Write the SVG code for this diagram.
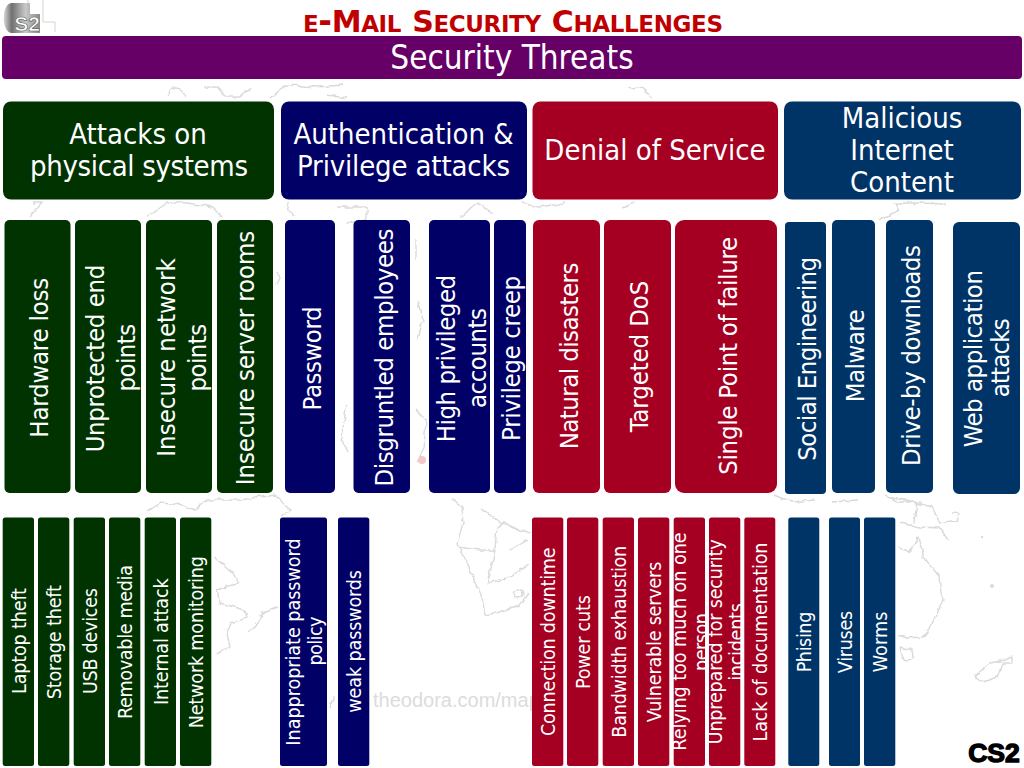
<svg xmlns="http://www.w3.org/2000/svg" width="1024" height="768" viewBox="0 0 1024 768">
<defs>
<linearGradient id="lg" x1="0" x2="1" y1="0" y2="0"><stop offset="0" stop-color="#d8d8d8"/><stop offset="0.22" stop-color="#707070"/><stop offset="0.6" stop-color="#c8c8c8"/><stop offset="1" stop-color="#8a8a8a"/></linearGradient>
<filter id="rough" x="-5%" y="-5%" width="110%" height="110%"><feTurbulence type="fractalNoise" baseFrequency="0.13" numOctaves="2" seed="4"/><feDisplacementMap in="SourceGraphic" scale="5" xChannelSelector="R" yChannelSelector="G"/><feGaussianBlur stdDeviation="0.3"/></filter>
</defs>
<style>
text{font-family:"DejaVu Sans","Noto Sans",sans-serif;font-stretch:condensed;fill:#fff;text-anchor:middle}
.map{fill:none;stroke:#dadada;stroke-width:1.4;stroke-linejoin:round}
.g{fill:#003300}.n{fill:#000066}.r{fill:#a50021}.b{fill:#003366}
.h{font-size:29px}.m{font-size:25.500px}.s{font-size:19.600px}
.t{fill:#c00000;font-variant:small-caps;font-weight:700;font-stretch:normal;font-size:33px}
.c{font-size:30px}
</style>
<rect width="1024" height="768" fill="#fff"/>
<g id="map">
<g filter="url(#rough)">
<path class="map" d="M167 96l5-8 8 2 6 7M205 87h12l10 10h13l10-9M270 98l17-13 30 2 26-2M327 95l20 3M629 88l11-1 12 10"/>
<path class="map" d="M33 203h9l-12 14M147 217l20-14h20l26 4 10 10M287 203l7 14M337 207h30v13l-20 3M460 217l17-14 16 10M522 203l17 4 26-4M622 208l13-5M879 220l20-10-4-7h24l26 1"/>
<path class="map" d="M277 272l3 6-3 6M347 404l-6 34 7 14M416 240v20M417 300l6 20-5 20M416 410l10 10-2 28-8 14"/>
<path class="map" d="M147 512l13-9 23 2 12 5 12-10 33 0 35-5 15 15-10 7"/>
<path class="map" d="M215 557l18 16 5 10-21 7 3 13 25 7 2 8-17 5-3 10 3 14-15 8M277 607l-14 6-10 15-5 4"/>
<path class="map" d="M452 498l10 9 1 16-6 22 10 18 10 24 6 16 2 12 15-3 20-7 8-12M457 547l23 3h15l2-23 8-4 15 7 10 3M495 550l-7 33 22-6 18-12M480 510l10 5 13 10M510 550l18-10"/>
<ellipse class="map" cx="518" cy="594" rx="5" ry="4"/>
<path class="map" d="M775 495l17 7 23-2M832 502l26-2M885 495l13 7h24"/>
<path class="map" d="M890 498l17 2 10 3 15 4 8 16 17-3 1-7-5-1M900 523l20 4 20 1 8 12M917 503l-3 20M898 547l12 5 8-15 7 23 15 17 3 23-10 23-10 14-16 1-9-3M900 647l12 3 1 7-8 5-3-7zM975 677l15-14 15-3 7-3v6h-9l-6 14-14 5zM330 708l4-12"/>
</g>
<circle cx="992" cy="586" r="2" fill="#dadada"/><circle cx="982" cy="537" r="1.200" fill="#dadada"/>
<circle cx="422" cy="460" r="4" fill="#f4c8c8"/>
<text x="373" y="707" font-size="20" style="fill:#dcdcdc;text-anchor:start;font-family:'Liberation Sans',sans-serif">theodora.com/map</text>
</g>
<g id="logo">
<path d="M12 3H30V14H40V33H12C1 33 1 3 12 3Z" fill="url(#lg)"/>
<path d="M28 0V4M43 0V22H55V32" fill="none" stroke="#c8c8c8" stroke-width="0.8"/>
<text x="27" y="30.500" font-size="21" font-weight="700" stroke="#666" stroke-width="0.7" style="font-family:'Liberation Sans',sans-serif;font-stretch:normal">S2</text>
</g>
<g id="title"><text class="t" x="513" y="32" textLength="420">e-<tspan class="c">M</tspan>ail <tspan class="c">S</tspan>ecurity <tspan class="c">C</tspan>hallenges</text></g>
<g id="band"><rect x="2" y="36" width="1020" height="43" rx="4" fill="#660066"/><text x="512" y="69" font-size="33">Security Threats</text></g>
<g id="h-physical"><rect class="g" x="3" y="101.500" width="271" height="98" rx="8"/><text class="h" x="138" y="143.500">Attacks on</text><text class="h" x="139" y="175.500" textLength="218">physical systems</text></g>
<g id="h-auth"><rect class="n" x="281" y="101.500" width="246" height="98" rx="8"/><text class="h" x="403.500" y="143.500">Authentication &amp;</text><text class="h" x="403.500" y="175.500" textLength="213">Privilege attacks</text></g>
<g id="h-dos"><rect class="r" x="532.500" y="101.500" width="245.500" height="98" rx="8"/><text class="h" x="655" y="160">Denial of Service</text></g>
<g id="h-content"><rect class="b" x="784" y="101.500" width="237" height="98" rx="8"/><text class="h" x="902" y="127.500">Malicious</text><text class="h" x="902" y="160">Internet</text><text class="h" x="902" y="192">Content</text></g>

<g id="a1"><rect class="g" x="4.500" y="220" width="66" height="273" rx="5"/><text class="m" textLength="160" transform="translate(48 357.700) rotate(-90)">Hardware loss</text></g>
<g id="a2"><rect class="g" x="75" y="220" width="66" height="273" rx="5"/><text class="m" textLength="187.600" transform="translate(103.500 358.500) rotate(-90)">Unprotected end</text><text class="m" textLength="67.600" transform="translate(135 357.700) rotate(-90)">points</text></g>
<g id="a3"><rect class="g" x="146" y="220" width="66" height="273" rx="5"/><text class="m" textLength="198.400" transform="translate(174.500 357.500) rotate(-90)">Insecure network</text><text class="m" textLength="67.600" transform="translate(206 357.700) rotate(-90)">points</text></g>
<g id="a4"><rect class="g" x="217" y="220" width="56" height="273" rx="5"/><text class="m" textLength="254.500" transform="translate(254 358) rotate(-90)">Insecure server rooms</text></g>
<g id="b1"><rect class="n" x="285" y="220" width="50" height="273" rx="5"/><text class="m" textLength="104" transform="translate(320.500 358.400) rotate(-90)">Password</text></g>
<g id="b2"><rect class="n" x="353.500" y="220" width="56.500" height="273" rx="5"/><text class="m" textLength="258" transform="translate(393 357.500) rotate(-90)">Disgruntled employees</text></g>
<g id="b3"><rect class="n" x="429" y="220" width="61" height="273" rx="5"/><text class="m" textLength="167.400" transform="translate(454.700 358.500) rotate(-90)">High privileged</text><text class="m" textLength="100" transform="translate(486 358) rotate(-90)">accounts</text></g>
<g id="b4"><rect class="n" x="494" y="220" width="32" height="273" rx="5"/><text class="m" textLength="165" transform="translate(520 358.400) rotate(-90)">Privilege creep</text></g>
<g id="c1"><rect class="r" x="533" y="220" width="67" height="273" rx="6"/><text class="m" textLength="186.700" transform="translate(577.700 356) rotate(-90)">Natural disasters</text></g>
<g id="c2"><rect class="r" x="604" y="220" width="67" height="273" rx="6"/><text class="m" textLength="151.700" transform="translate(648 356.500) rotate(-90)">Targeted DoS</text></g>
<g id="c3"><rect class="r" x="675" y="220" width="102" height="273" rx="9"/><text class="m" textLength="238" transform="translate(736.700 355.800) rotate(-90)">Single Point of failure</text></g>
<g id="d1"><rect class="b" x="785" y="222" width="41" height="272" rx="4"/><text class="m" textLength="204" transform="translate(815.700 358.800) rotate(-90)">Social Engineering</text></g>
<g id="d2"><rect class="b" x="832" y="220" width="43" height="273" rx="5"/><text class="m" textLength="93" transform="translate(864 355.800) rotate(-90)">Malware</text></g>
<g id="d3"><rect class="b" x="886" y="220" width="47" height="273" rx="5"/><text class="m" textLength="221" transform="translate(920 355.500) rotate(-90)">Drive-by downloads</text></g>
<g id="d4"><rect class="b" x="953" y="222" width="67" height="272" rx="6"/><text class="m" textLength="177.300" transform="translate(981.700 358.700) rotate(-90)">Web application</text><text class="m" textLength="79" transform="translate(1009 357.800) rotate(-90)">attacks</text></g>

<g id="e1"><rect class="g" x="2.700" y="517.500" width="31.300" height="248.500" rx="2.500"/><text class="s" textLength="106" transform="translate(26 641) rotate(-90)">Laptop theft</text></g>
<g id="e2"><rect class="g" x="38" y="517.500" width="31.300" height="248.500" rx="2.500"/><text class="s" textLength="114.300" transform="translate(61 642.200) rotate(-90)">Storage theft</text></g>
<g id="e3"><rect class="g" x="73.700" y="517.500" width="31.300" height="248.500" rx="2.500"/><text class="s" textLength="106" transform="translate(97 641) rotate(-90)">USB devices</text></g>
<g id="e4"><rect class="g" x="109" y="517.500" width="31.300" height="248.500" rx="2.500"/><text class="s" textLength="154" transform="translate(132 642) rotate(-90)">Removable media</text></g>
<g id="e5"><rect class="g" x="144.700" y="517.500" width="31.300" height="248.500" rx="2.500"/><text class="s" textLength="126.700" transform="translate(168 641.700) rotate(-90)">Internal attack</text></g>
<g id="e6"><rect class="g" x="180" y="517.500" width="31.300" height="248.500" rx="2.500"/><text class="s" textLength="172.300" transform="translate(203 642.200) rotate(-90)">Network monitoring</text></g>
<g id="f1"><rect class="n" x="280" y="517.500" width="47" height="248.500" rx="2.500"/><text class="s" textLength="207.300" transform="translate(300.300 642) rotate(-90)">Inappropriate password</text><text class="s" textLength="49" transform="translate(321.800 641) rotate(-90)">policy</text></g>
<g id="f2"><rect class="n" x="338" y="517.500" width="31.300" height="248.500" rx="2.500"/><text class="s" textLength="142.700" transform="translate(361 641.300) rotate(-90)">weak passwords</text></g>
<g id="g1"><rect class="r" x="532" y="517.500" width="31.300" height="248.500" rx="2.500"/><text class="s" textLength="188.700" transform="translate(555 641.700) rotate(-90)">Connection downtime</text></g>
<g id="g2"><rect class="r" x="567" y="517.500" width="31.300" height="248.500" rx="2.500"/><text class="s" textLength="94" transform="translate(590 642) rotate(-90)">Power cuts</text></g>
<g id="g3"><rect class="r" x="602.700" y="517.500" width="31.300" height="248.500" rx="2.500"/><text class="s" textLength="192" transform="translate(626 641.700) rotate(-90)">Bandwidth exhaustion</text></g>
<g id="g4"><rect class="r" x="638" y="517.500" width="31.300" height="248.500" rx="2.500"/><text class="s" textLength="160.700" transform="translate(661 642) rotate(-90)">Vulnerable servers</text></g>
<g id="g5"><rect class="r" x="673.700" y="517.500" width="31.300" height="248.500" rx="2.500"/><text class="s" textLength="218.300" transform="translate(686 641.500) rotate(-90)">Relying too much on one</text><text class="s" textLength="58" transform="translate(707.500 642) rotate(-90)">person</text></g>
<g id="g6"><rect class="r" x="709" y="517.500" width="31.300" height="248.500" rx="2.500"/><text class="s" textLength="205" transform="translate(721.500 641.800) rotate(-90)">Unprepared for security</text><text class="s" textLength="77.700" transform="translate(743 642) rotate(-90)">incidents</text></g>
<g id="g7"><rect class="r" x="744.300" y="517.500" width="31" height="248.500" rx="2.500"/><text class="s" textLength="199" transform="translate(767 642) rotate(-90)">Lack of documentation</text></g>
<g id="k1"><rect class="b" x="788.300" y="517.500" width="31" height="248.500" rx="2.500"/><text class="s" textLength="60.700" transform="translate(811 642) rotate(-90)">Phising</text></g>
<g id="k2"><rect class="b" x="829" y="517.500" width="31" height="248.500" rx="2.500"/><text class="s" textLength="62.300" transform="translate(852 642) rotate(-90)">Viruses</text></g>
<g id="k3"><rect class="b" x="864" y="517.500" width="31.300" height="248.500" rx="2.500"/><text class="s" textLength="60.700" transform="translate(887 642) rotate(-90)">Worms</text></g>
<g id="cs2"><text x="994" y="762.300" font-size="26.500" font-weight="700" stroke="#000" stroke-width="1.400" style="fill:#000;font-family:'Liberation Sans',sans-serif;font-stretch:normal">CS2</text></g>
</svg>
